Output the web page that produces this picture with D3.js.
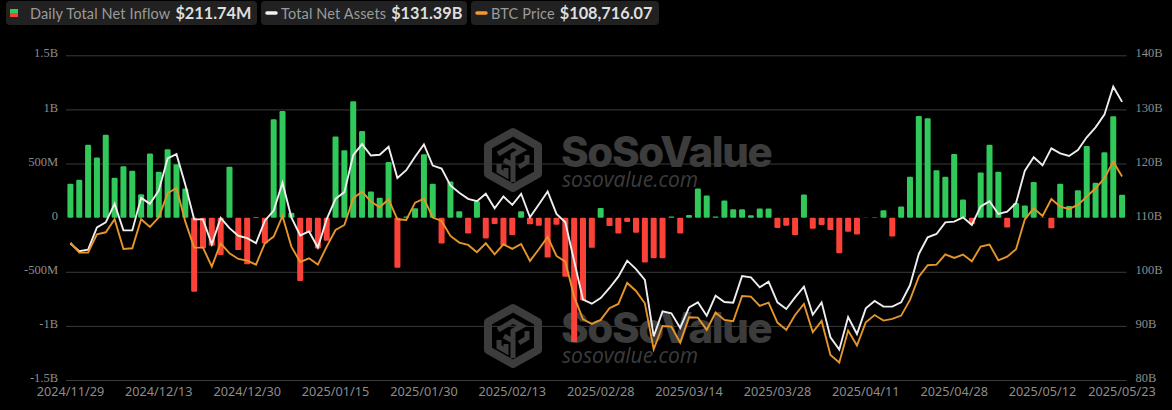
<!DOCTYPE html>
<html>
<head>
<meta charset="utf-8">
<title>SoSoValue ETF flows</title>
<script src="https://cdn.jsdelivr.net/npm/d3@7"></script>
<style>
  html, body { margin: 0; padding: 0; background: #000; overflow: hidden; }
  svg { display: block; }
</style>
</head>
<body>
<svg id="chart" width="1172" height="410"></svg>
<script>
const dates = [
  "2024/11/29","2024/12/02","2024/12/03","2024/12/04","2024/12/05","2024/12/06","2024/12/09","2024/12/10","2024/12/11","2024/12/12",
  "2024/12/13","2024/12/16","2024/12/17","2024/12/18","2024/12/19","2024/12/20","2024/12/23","2024/12/24","2024/12/26","2024/12/27",
  "2024/12/30","2024/12/31","2025/01/02","2025/01/03","2025/01/06","2025/01/07","2025/01/08","2025/01/10","2025/01/13","2025/01/14",
  "2025/01/15","2025/01/16","2025/01/17","2025/01/21","2025/01/22","2025/01/23","2025/01/24","2025/01/27","2025/01/28","2025/01/29",
  "2025/01/30","2025/01/31","2025/02/03","2025/02/04","2025/02/05","2025/02/06","2025/02/07","2025/02/10","2025/02/11","2025/02/12",
  "2025/02/13","2025/02/14","2025/02/18","2025/02/19","2025/02/20","2025/02/21","2025/02/24","2025/02/25","2025/02/26","2025/02/27",
  "2025/02/28","2025/03/03","2025/03/04","2025/03/05","2025/03/06","2025/03/07","2025/03/10","2025/03/11","2025/03/12","2025/03/13",
  "2025/03/14","2025/03/17","2025/03/18","2025/03/19","2025/03/20","2025/03/21","2025/03/24","2025/03/25","2025/03/26","2025/03/27",
  "2025/03/28","2025/03/31","2025/04/01","2025/04/02","2025/04/03","2025/04/04","2025/04/07","2025/04/08","2025/04/09","2025/04/10",
  "2025/04/11","2025/04/14","2025/04/15","2025/04/16","2025/04/17","2025/04/21","2025/04/22","2025/04/23","2025/04/24","2025/04/25",
  "2025/04/28","2025/04/29","2025/04/30","2025/05/01","2025/05/02","2025/05/05","2025/05/06","2025/05/07","2025/05/08","2025/05/09",
  "2025/05/12","2025/05/13","2025/05/14","2025/05/15","2025/05/16","2025/05/19","2025/05/20","2025/05/21","2025/05/22","2025/05/23"
];

// daily net inflow, $M
const netInflow = [
  313, 350, 673, 555, 766, 369, 474, 434, 217, 592,
  425, 632, 493, 270, -685, -282, -260, -344, 471, -300,
  -431, 5, -239, 908, 986, 45, -586, -136, -285, -214,
  750, 623, 1075, 800, 242, 183, 515, -462, 10, 87,
  586, 313, -239, 335, 59, -146, 152, -192, -59, -260,
  -161, 59, -62, -74, -369, -65, -546, -1150, -766, -279,
  90, -78, -146, -40, -140, -415, -375, -375, 10, -146,
  25, 270, 205, 10, 158, 78, 78, 22, 84, 84,
  -96, -74, -161, 214, -102, -68, -115, -329, -130, -155,
  -3, 3, 68, -174, 102, 378, 939, 918, 437, 378,
  589, 167, -60, 418, 673, 425, -90, 136, 112, 329,
  2, -99, 313, 108, 254, 663, 322, 604, 936, 211.74
];

// total net assets, $B
const netAssets = [
  105.22, 103.79, 104.10, 108.20, 109.13, 112.55, 107.64, 107.64, 113.66, 112.55,
  115.03, 120.93, 121.74, 116.09, 109.69, 109.69, 105.09, 109.94, 108.07, 106.65,
  106.21, 105.28, 109.44, 111.30, 116.46, 110.06, 106.71, 107.45, 104.47, 109.75,
  113.48, 114.72, 121.55, 123.60, 121.49, 121.61, 123.10, 117.33, 118.76, 121.24,
  123.54, 119.63, 119.07, 115.96, 114.60, 113.48, 113.04, 114.41, 111.74, 113.91,
  112.36, 114.41, 110.06, 112.42, 114.84, 110.68, 109.13, 101.99, 94.85, 94.10,
  95.15, 97.00, 99.10, 102.05, 100.50, 98.50, 88.07, 92.69, 92.32, 89.61,
  93.43, 94.35, 91.89, 95.59, 94.41, 94.29, 99.22, 98.97, 97.13, 98.17,
  94.35, 93.12, 95.28, 97.25, 92.07, 94.35, 87.89, 85.61, 91.64, 88.50,
  93.24, 94.60, 93.55, 93.55, 94.35, 97.50, 103.29, 106.37, 106.98, 109.14,
  109.26, 110.06, 108.64, 112.09, 113.02, 110.68, 111.11, 112.71, 118.69, 121.15,
  119.67, 122.81, 121.89, 121.40, 122.50, 124.85, 126.69, 129.03, 134.20, 131.39
];

const btcPrice = [
  97117, 95362, 95362, 98580, 98930, 101212, 96006, 96122, 101212, 99866,
  101563, 105775, 106711, 100802, 96240, 96240, 92905, 97000, 95245, 94250,
  93958, 93256, 97000, 98170, 101797, 96415, 93724, 94367, 93256, 96415,
  99340, 100218, 104897, 106068, 104312, 103318, 104722, 101212, 101095, 104137,
  104839, 101505, 100920, 98287, 97117, 96708, 95420, 97000, 95070, 96824,
  96006, 96883, 93900, 95947, 98111, 94777, 93782, 87640, 83662, 82843,
  83545, 85592, 86353, 90039, 88635, 86470, 78397, 82492, 82375, 79567,
  84013, 83955, 81790, 84832, 83545, 83311, 87757, 87640, 86002, 86587,
  83077, 81790, 84422, 86353, 81381, 83370, 77402, 76057, 81673, 79040,
  83135, 84400, 83428, 83720, 84305, 87055, 91150, 93139, 93256, 95070,
  94426, 95011, 93841, 96415, 96766, 94016, 94660, 95947, 101212, 103142,
  101797, 104781, 103435, 103026, 103727, 105190, 106652, 108409, 111332, 108716.07
];

const dateTicks = ["2024/11/29","2024/12/13","2024/12/30","2025/01/15","2025/01/30","2025/02/13","2025/02/28",
  "2025/03/14","2025/03/28","2025/04/11","2025/04/28","2025/05/12","2025/05/23"];
const inflowTicks = [-1500, -1000, -500, 0, 500, 1000, 1500];
const assetTicks = [80, 90, 100, 110, 120, 130, 140];

const legendItems = [
  { label: "Daily Total Net Inflow", value: "$211.74M", x: 6, w: 251 },
  { label: "Total Net Assets", value: "$131.39B", x: 261, w: 206, line: "#f2f2f2" },
  { label: "BTC Price", value: "$108,716.07", x: 471, w: 188, line: "#f39a2d" }
];

const GREEN = "#30c95a";
const RED = "#fb4239";
const WHITE = "#eeeeee";
const ORANGE = "#e5952a";
const GRID = "#3b3b3b";
const AXIS_TEXT = "#8c8c8c";
const MARK = "#3c3c3c";

const margin = { left: 66, right: 1126.5, top: 55.3, bottom: 380 };
const svg = d3.select("#chart");

const x = d3.scaleBand().domain(dates).range([margin.left, margin.right]).paddingInner(0.32).paddingOuter(0.16);
const yInflow = d3.scaleLinear().domain([-1500, 1500]).range([margin.bottom, margin.top]);
const yAssets = d3.scaleLinear().domain([80, 140]).range([margin.bottom, margin.top]);
const yBtc = d3.scaleLinear().domain([73000, 130000]).range([margin.bottom, margin.top]); // hidden axis

function drawWatermark(dy) {
  const g = svg.append("g").attr("transform", `translate(513,${160 + dy})`);
  g.append("path")
    .attr("d", "M0,-28 L25,-14 L25,14 L0,28 L-25,14 L-25,-14 Z")
    .attr("fill", "none").attr("stroke", MARK).attr("stroke-width", 8).attr("stroke-linejoin", "round");
  const inner = [
    "M-15,-6 L0,-15 L9,-10 L0,-5 L0,3",
    "M-9,0 L0,5 L0,22",
    "M14,-5 L14,2 L6,7",
    "M-14,4 L-14,11 L-7,15 L-7,8"
  ];
  g.selectAll("path.inner").data(inner).join("path")
    .attr("class", "inner").attr("d", d => d)
    .attr("fill", "none").attr("stroke", MARK).attr("stroke-width", 5);
  svg.append("text").attr("x", 561).attr("y", 167 + dy)
    .attr("font-family", "Inter, Roboto, sans-serif").attr("font-weight", 800)
    .attr("font-size", 42).attr("letter-spacing", -1.4).attr("fill", MARK).text("SoSoValue");
  svg.append("text").attr("x", 562).attr("y", 187 + dy)
    .attr("font-family", "'Open Sans', sans-serif").attr("font-style", "italic")
    .attr("font-size", 21).attr("fill", MARK).text("sosovalue.com");
}
drawWatermark(0);
drawWatermark(176);

// grid + left axis
const leftAxis = svg.append("g")
  .attr("transform", `translate(${margin.left},0)`)
  .call(d3.axisLeft(yInflow).tickValues(inflowTicks).tickSize(-(margin.right - margin.left)).tickPadding(8)
    .tickFormat(d => d === 0 ? "0" : Math.abs(d) >= 1000 ? (d / 1000) + "B" : d + "M"));
leftAxis.select(".domain").remove();
leftAxis.selectAll(".tick line").attr("stroke", GRID);
leftAxis.selectAll(".tick").filter(d => d === 0).select("line").attr("stroke", "none");

const rightAxis = svg.append("g")
  .attr("transform", `translate(${margin.right},0)`)
  .call(d3.axisRight(yAssets).tickValues(assetTicks).tickSize(0).tickPadding(9).tickFormat(d => d + "B"));
rightAxis.select(".domain").remove();

const bottomAxis = svg.append("g")
  .attr("transform", `translate(0,${margin.bottom})`)
  .call(d3.axisBottom(x).tickValues(dateTicks).tickSize(0).tickPadding(7));
bottomAxis.select(".domain").remove();

svg.selectAll(".tick text").attr("fill", AXIS_TEXT);
leftAxis.selectAll("text").attr("font-family", "'Liberation Serif', serif").attr("font-size", 12.5).attr("dy", "0.13em");
rightAxis.selectAll("text").attr("font-family", "'Liberation Serif', serif").attr("font-size", 12.5).attr("dy", "0.13em");
bottomAxis.selectAll("text").attr("font-family", "'Noto Sans', sans-serif").attr("font-size", 12.7);

// bars
svg.append("g").selectAll("rect").data(netInflow).join("rect")
  .attr("x", (d, i) => x(dates[i]))
  .attr("y", d => yInflow(Math.max(d, 0)))
  .attr("width", x.bandwidth())
  .attr("height", d => Math.abs(yInflow(d) - yInflow(0)))
  .attr("rx", 1.2)
  .attr("fill", d => d >= 0 ? GREEN : RED);

// lines
const cx = i => x(dates[i]) + x.bandwidth() / 2;
const assetLine = d3.line().x((d, i) => cx(i)).y(d => yAssets(d));
const btcLine = d3.line().x((d, i) => cx(i)).y(d => yBtc(d));
svg.append("path").datum(netAssets).attr("d", assetLine)
  .attr("fill", "none").attr("stroke", WHITE).attr("stroke-width", 1.9);
svg.append("path").datum(btcPrice).attr("d", btcLine)
  .attr("fill", "none").attr("stroke", ORANGE).attr("stroke-width", 1.9);

// legend
const legend = svg.append("g");
legendItems.forEach(item => {
  const g = legend.append("g").attr("transform", `translate(${item.x},1)`);
  g.append("rect").attr("width", item.w).attr("height", 24).attr("rx", 4).attr("fill", "#212121");
  if (item.line) {
    g.append("line").attr("x1", 6).attr("x2", 15).attr("y1", 12).attr("y2", 12)
      .attr("stroke", item.line).attr("stroke-width", 3.5).attr("stroke-linecap", "round");
  } else {
    g.append("rect").attr("x", 4).attr("y", 8).attr("width", 8).attr("height", 4).attr("fill", GREEN);
    g.append("rect").attr("x", 4).attr("y", 12).attr("width", 8).attr("height", 4).attr("fill", RED);
  }
  const t = g.append("text").attr("x", item.line ? 20 : 24).attr("y", 17.5)
    .attr("font-family", "Lato, sans-serif").attr("font-size", 14.5);
  t.append("tspan").attr("fill", "#9b9b9b").attr("letter-spacing", 0.15).text(item.label);
  t.append("tspan").attr("dx", 5).attr("fill", "#dedede").attr("font-weight", 700).attr("font-size", 16.3).text(item.value);
});
</script>
</body>
</html>
